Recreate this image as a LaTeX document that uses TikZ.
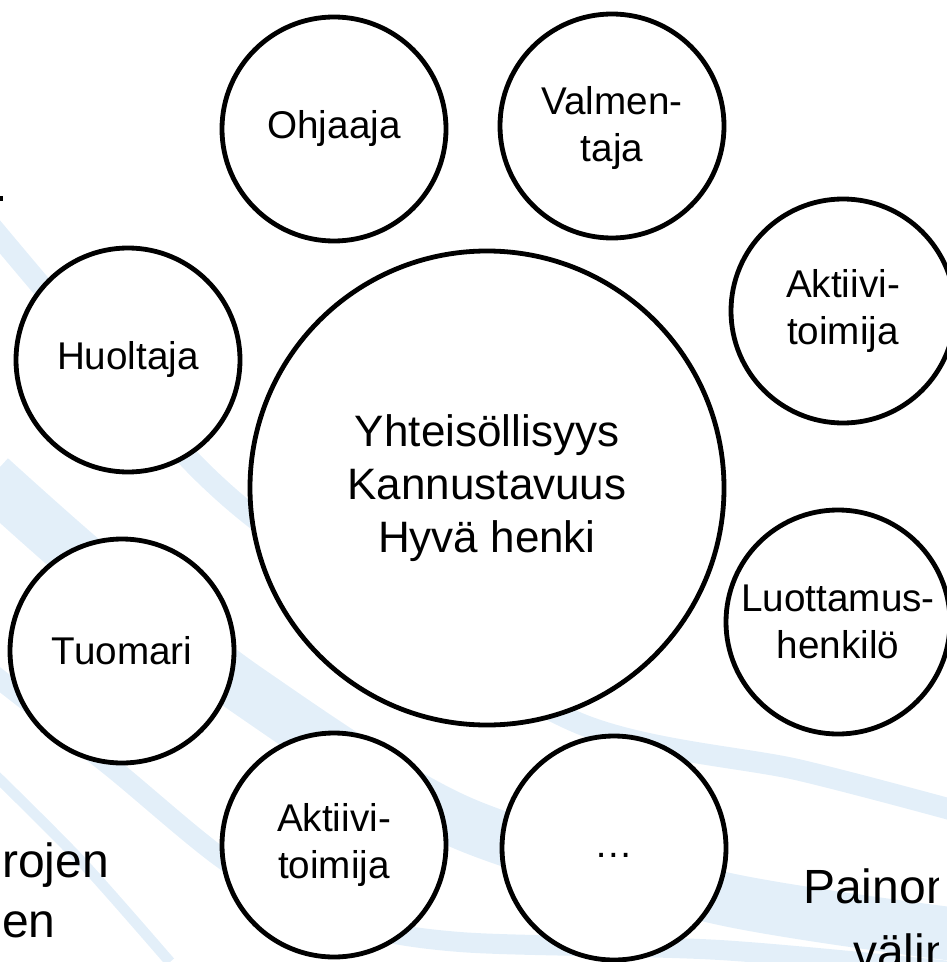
\documentclass[tikz,border=0pt]{standalone}
\usepackage{fontspec}
\setmainfont{Liberation Sans}
\usetikzlibrary{positioning}
\definecolor{swoosh}{HTML}{E3EFF9}
\tikzset{
  role/.style={circle, draw=black, line width=3.6pt, fill=white, minimum size=168pt, inner sep=0pt, align=center, font=\fontsize{29}{35}\selectfont},
  hub/.style={role, minimum size=355.5pt, font=\fontsize{33}{39.75}\selectfont},
  slidetext/.style={inner sep=0pt, anchor=base west, font=\fontsize{36}{43}\selectfont},
  band/.style={draw=swoosh, line cap=butt}
}

\begin{document}
\begin{tikzpicture}[x=0.75pt,y=0.75pt,yscale=-1,xscale=1]
\path[use as bounding box] (0,0) rectangle (946,962);

%Background swooshes
\draw[band, line width=16pt] plot[smooth] coordinates {(-10,225) (60,308) (200,470) (320,565) (576,722) (799,770) (960,812)};
\draw[band, line width=40pt] plot[smooth] coordinates {(-10,478) (100,575) (250,692) (460,822) (720,898) (960,935)};
\draw[band, line width=15pt] plot[smooth] coordinates {(-10,672) (110,766) (230,864) (340,920) (460,942) (720,950) (960,972)};
\draw[band, line width=8pt] plot[smooth] coordinates {(-10,770) (80,860) (170,962)};

%Role circles
\node[role] (ohjaaja) at (334,129) {Ohjaaja};
\node[role] (valmentaja) at (612,126) {\strut Valmen-\\taja};
\node[role] (aktiivi) at (843,311) {Aktiivi-\\toimija};
\node[role] (luottamus) at (838,622) {Luottamus-\\henkilö};
\node[role] (muut) at (614,848) {\strut…};
\node[role] (aktiivib) at (334,845) {Aktiivi-\\toimija};
\node[role] (tuomari) at (122,651) {Tuomari};
\node[role] (huoltaja) at (128,360) {Huoltaja};

%Centre circle
\node[hub] (yhteiso) at (487,488) {Yhteisöllisyys\\Kannustavuus\\Hyvä henki};

% Text Node
\node[slidetext] (rojen) at (2,877) {rojen};
\node[slidetext] (en) at (2,937) {en};
\begin{scope}
\clip (0,0) rectangle (938,962);
\node[slidetext] (paino) at (803,903) {Painon};
\node[slidetext] (valin) at (853,968) {välin};
\end{scope}
\fill (0,196) rectangle (2.5,201);

\end{tikzpicture}
\end{document}
